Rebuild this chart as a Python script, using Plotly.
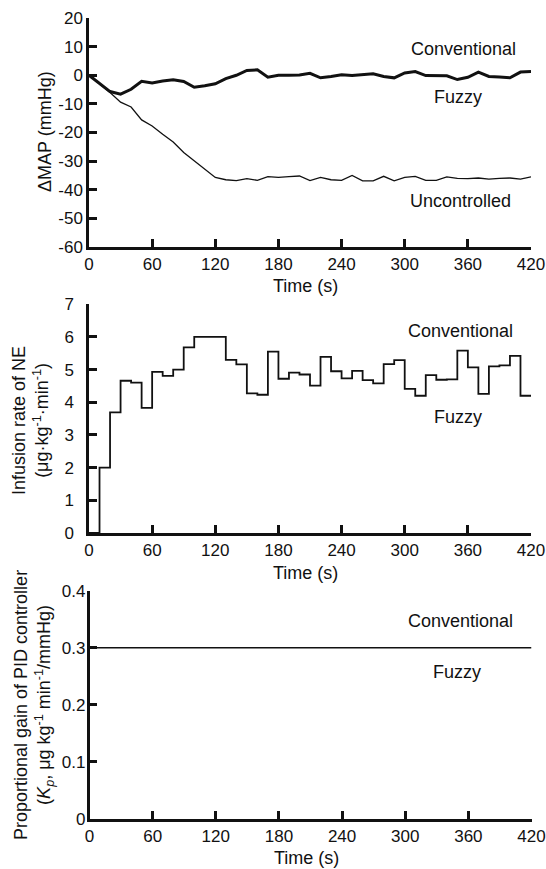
import plotly.graph_objects as go

# ---------------- data ----------------
time_s = list(range(0, 421, 10))

map_fuzzy = [0, -2.8, -5.7, -6.6, -4.9, -2.1, -2.7, -2.0, -1.6, -2.2, -4.2, -3.7, -3.0,
             -1.2, 0, 1.7, 1.9, -0.7, 0, 0, 0.1, 0.7, -0.9, -0.4, 0.2, -0.1, 0.2, 0.5,
             -0.4, -0.9, 0.8, 1.3, -0.1, -0.2, -0.2, -1.5, -0.7, 1.1, -0.4, -0.6, -0.9,
             1.1, 1.3]
map_uncontrolled = [0, -3.0, -6.0, -9.4, -11.1, -15.6, -17.7, -20.6, -23.3, -27.0, -29.8,
                    -32.7, -35.7, -36.5, -36.8, -36.1, -36.7, -35.4, -35.7, -35.4, -35.2,
                    -36.8, -35.7, -36.5, -36.7, -35.0, -36.9, -36.9, -35.3, -36.9, -35.7,
                    -35.3, -36.7, -36.7, -35.5, -36.0, -36.1, -35.9, -36.3, -36.0, -35.9,
                    -36.3, -35.5]

ne_rate = [0, 2.0, 3.69, 4.66, 4.6, 3.83, 4.93, 4.81, 5.0, 5.68, 6.0, 6.0, 6.0, 5.3, 5.16,
           4.27, 4.23, 5.55, 4.72, 4.91, 4.85, 4.51, 5.39, 4.95, 4.73, 4.96, 4.68, 4.58,
           5.17, 5.29, 4.41, 4.2, 4.83, 4.69, 4.7, 5.58, 5.07, 4.26, 5.1, 5.13, 5.42, 4.2,
           4.2]

kp_time = [0, 420]
kp_value = [0.3, 0.3]

x_ticks = [0, 60, 120, 180, 240, 300, 360, 420]
y1_ticks = [-60, -50, -40, -30, -20, -10, 0, 10, 20]
y1_labels = ["-60", "-50", "-40", "-30", "-20", "-10", "0", "10", "20"]
y2_ticks = [0, 1, 2, 3, 4, 5, 6, 7]
y3_ticks = [0, 0.1, 0.2, 0.3, 0.4]
y3_labels = ["0", "0.1", "0.2", "0.3", "0.4"]

# ---------------- figure ----------------
FONT = "Liberation Sans, Arial, sans-serif"
INK = "#111111"

fig = go.Figure()
fig.add_trace(go.Scatter(x=time_s, y=map_uncontrolled, mode="lines",
                         line=dict(color=INK, width=1.3), xaxis="x", yaxis="y"))
fig.add_trace(go.Scatter(x=time_s, y=map_fuzzy, mode="lines",
                         line=dict(color=INK, width=3), xaxis="x", yaxis="y"))
fig.add_trace(go.Scatter(x=time_s, y=ne_rate, mode="lines", line_shape="hv",
                         line=dict(color=INK, width=1.8), xaxis="x2", yaxis="y2"))
fig.add_trace(go.Scatter(x=kp_time, y=kp_value, mode="lines",
                         line=dict(color=INK, width=1.6), xaxis="x3", yaxis="y3"))

axis_common = dict(showline=True, linecolor=INK, linewidth=2.5, ticks="inside",
                   ticklen=8, tickwidth=2.5, tickcolor=INK, showgrid=False,
                   zeroline=False, automargin=False, ticklabeloverflow="allow",
                   tickfont=dict(family=FONT, size=17, color=INK))

xd12 = [0, 442 / 445]
xd3 = [0.5 / 445, 442.5 / 445]

fig.update_layout(
    width=546, height=869,
    margin=dict(l=89, r=12, t=18, b=50, autoexpand=False),
    paper_bgcolor="white", plot_bgcolor="white",
    showlegend=False,
    xaxis=dict(domain=xd12, range=[0, 420], tickvals=x_ticks, anchor="y",
               ticklabelstandoff=0, **axis_common),
    yaxis=dict(domain=[0.7141, 1.0], range=[-60, 20], tickvals=y1_ticks,
               ticktext=y1_labels, anchor="x", ticklabelstandoff=0, **axis_common),
    xaxis2=dict(domain=xd12, range=[0, 420], tickvals=x_ticks, anchor="y2",
                ticklabelstandoff=0, **axis_common),
    yaxis2=dict(domain=[0.3571, 0.6426], range=[0, 7], tickvals=y2_ticks,
                anchor="x2", ticklabelstandoff=9, **axis_common),
    xaxis3=dict(domain=xd3, range=[0, 420], tickvals=x_ticks, anchor="y3",
                ticklabelstandoff=0, **axis_common),
    yaxis3=dict(domain=[0.0, 0.2850], range=[0, 0.4], tickvals=y3_ticks,
                ticktext=y3_labels, anchor="x3", ticklabelstandoff=-2, **axis_common),
)

tf = dict(family=FONT, size=18, color=INK)
ann = []
# series labels
for xr, yr, x, y, t in [
    ("x", "y", 356, 9.2, "Conventional"),
    ("x", "y", 351, -7.5, "Fuzzy"),
    ("x", "y", 353, -43.8, "Uncontrolled"),
    ("x2", "y2", 353, 6.19, "Conventional"),
    ("x2", "y2", 351, 3.56, "Fuzzy"),
    ("x3", "y3", 353, 0.347, "Conventional"),
    ("x3", "y3", 349, 0.258, "Fuzzy"),
]:
    ann.append(dict(xref=xr, yref=yr, x=x, y=y, text=t, showarrow=False,
                    font=tf, xanchor="center", yanchor="middle"))

# x-axis titles (paper coordinates)
for xp, yp in [(0.4866, 0.6654), (0.4866, 0.3071), (0.4877, -0.0487)]:
    ann.append(dict(xref="paper", yref="paper", x=xp, y=yp, text="Time (s)",
                    showarrow=False, font=tf, xanchor="center", yanchor="middle"))

# y-axis titles (paper coordinates)
for xp, yp, xs, t in [
    (-0.1213, 0.8577, 10, "ΔMAP (mmHg)"),
    (-0.1326, 0.4981, 0, "Infusion rate of NE<br>(μg·kg<sup>-1</sup>·min<sup>-1</sup>)"),
    (-0.1236, 0.1423, 0, "Proportional gain of PID controller<br>(<i>K</i><sub><i>p</i></sub>, μg kg<sup>-1</sup> min<sup>-1</sup>/mmHg)"),
]:
    ann.append(dict(xref="paper", yref="paper", x=xp, y=yp, xshift=xs, text=t,
                    textangle=-90, showarrow=False, font=tf,
                    xanchor="center", yanchor="middle"))

fig.update_layout(annotations=ann)
fig.write_html("out.html", config={"displayModeBar": False},
               post_script="document.body.style.margin='0';")
